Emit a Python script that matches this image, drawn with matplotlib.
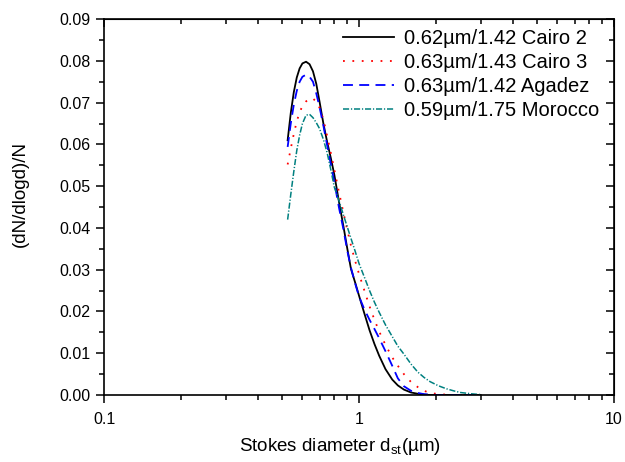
import matplotlib.pyplot as plt
import numpy as np

plt.rcParams['font.family'] = ['Liberation Sans', 'DejaVu Sans']

# values
d = [0.525, 0.54, 0.555, 0.57, 0.585, 0.60, 0.62, 0.64, 0.66, 0.68, 0.70,
     0.725, 0.75, 0.775, 0.80, 0.835, 0.87, 0.90, 0.93, 0.965, 1.0, 1.05,
     1.1, 1.15, 1.2, 1.27, 1.35, 1.42, 1.5, 1.6, 1.7, 1.8, 1.9, 2.05, 2.2,
     2.35, 2.5, 2.75, 3.0]
cairo2 = [0.0610, 0.0675, 0.0725, 0.0760, 0.0782, 0.0794, 0.0798, 0.0792,
          0.0775, 0.0745, 0.0703, 0.0650, 0.0606, 0.0568, 0.0528, 0.0462,
          0.0402, 0.0350, 0.0302, 0.0270, 0.0238, 0.0195, 0.0155, 0.0122,
          0.0094, 0.0062, 0.0037, 0.0023, 0.0013, 0.0006, 0.0003, 0.0001,
          0.0, 0.0, 0.0, 0.0, 0.0, 0.0, 0.0]
cairo3 = [0.0552, 0.0590, 0.0625, 0.0655, 0.0677, 0.0692, 0.0703, 0.0710,
          0.0710, 0.0702, 0.0688, 0.0660, 0.0620, 0.0580, 0.0540, 0.0485,
          0.0435, 0.0395, 0.0358, 0.0322, 0.0290, 0.0250, 0.0212, 0.0180,
          0.0152, 0.0120, 0.0090, 0.0070, 0.0050, 0.0031, 0.0019, 0.0010,
          0.0005, 0.0002, 0.0001, 0.0, 0.0, 0.0, 0.0]
agadez = [0.0594, 0.0650, 0.0695, 0.0728, 0.0750, 0.0762, 0.0767, 0.0762,
          0.0750, 0.0722, 0.0690, 0.0645, 0.0598, 0.0553, 0.0510, 0.0448,
          0.0395, 0.0345, 0.0305, 0.0268, 0.0236, 0.0205, 0.0180, 0.0158,
          0.0136, 0.0105, 0.0070, 0.0040, 0.0021, 0.0010, 0.0005, 0.0002,
          0.0001, 0.0, 0.0, 0.0, 0.0, 0.0, 0.0]
morocco = [0.0420, 0.0480, 0.0535, 0.0585, 0.0622, 0.0650, 0.0670, 0.0672,
           0.0664, 0.0652, 0.0638, 0.0612, 0.0580, 0.0540, 0.0498, 0.0465,
           0.0430, 0.0402, 0.0375, 0.0345, 0.0315, 0.0282, 0.0250, 0.0222,
           0.0198, 0.0168, 0.0140, 0.0117, 0.0098, 0.0074, 0.0055, 0.0042,
           0.0032, 0.0022, 0.0015, 0.0010, 0.0006, 0.0003, 0.0001]
labels = ["0.62\u00b5m/1.42 Cairo 2", "0.63\u00b5m/1.43 Cairo 3",
          "0.63\u00b5m/1.42 Agadez", "0.59\u00b5m/1.75 Morocco"]

fig = plt.figure(figsize=(6.25, 4.62), dpi=100)
ax = fig.add_axes([0.1664, 0.145, 0.816, 0.8136])

ax.plot(d, cairo2, color="black", lw=1.3, label=labels[0])
ax.plot(d, cairo3, color="red", lw=1.3, linestyle=(0, (1, 4.2)), label=labels[1])
ax.plot(d, agadez, color="blue", lw=1.3, linestyle=(0, (5.5, 3.5)), label=labels[2])
ax.plot(d, morocco, color="#008080", lw=1.1, linestyle=(0, (4, 1.2, 0.8, 1.2)), label=labels[3])

ax.set_xscale("log")
ax.set_xlim(0.1, 10)
ax.set_ylim(0, 0.09)
ax.set_yticks(np.arange(0, 0.091, 0.01))
ax.set_yticks(np.arange(0.005, 0.09, 0.01), minor=True)
ax.yaxis.set_major_formatter(plt.FormatStrFormatter("%.2f"))
ax.xaxis.set_major_formatter(plt.FuncFormatter(lambda v, p: f"{v:g}"))

for s in ax.spines.values():
    s.set_linewidth(1.2)
ax.tick_params(which="both", direction="out", labelsize=11.5, width=1.1)
ax.tick_params(which="major", length=6)
ax.tick_params(which="minor", length=3.5)
ax.tick_params(axis="x", pad=6)

# mirrored inward ticks on top and right
top = ax.secondary_xaxis("top")
top.tick_params(which="both", direction="in", labeltop=False, width=1.1)
top.tick_params(which="major", length=6)
top.tick_params(which="minor", length=3.5)
right = ax.secondary_yaxis("right")
right.set_yticks(np.arange(0, 0.091, 0.01))
right.set_yticks(np.arange(0.005, 0.09, 0.01), minor=True)
right.tick_params(which="both", direction="in", labelright=False, width=1.1)
right.tick_params(which="major", length=6)
right.tick_params(which="minor", length=3.5)

ax.set_xlabel("Stokes diameter d$_{\\mathregular{st}}$(\u00b5m)", fontsize=13.5)
ax.set_ylabel("(dN/dlogd)/N", fontsize=13.5)
ax.xaxis.set_label_coords(0.463, -0.11)
ax.yaxis.set_label_coords(-0.147, 0.535)

ax.legend(loc="upper right", frameon=False, fontsize=14.5, handlelength=2.5,
          handletextpad=0.5, labelspacing=0.25, borderaxespad=0.2,
          bbox_to_anchor=(0.994, 1.0053))

fig.savefig("out.png", dpi=100)
